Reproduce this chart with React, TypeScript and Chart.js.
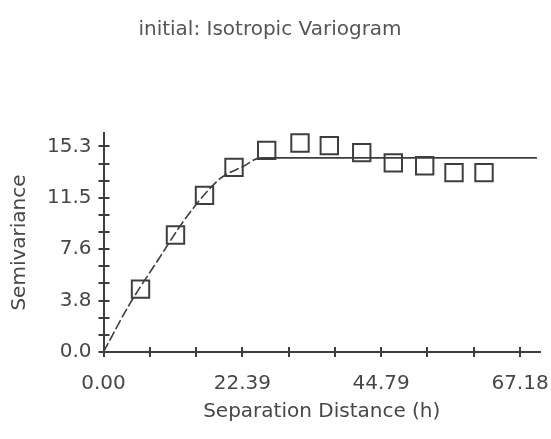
import React, { useEffect, useRef } from 'react';
import { Chart, registerables } from 'chart.js';

Chart.register(...registerables);

// Experimental (observed) semivariogram points
const OBS_DIST = [5.97, 11.61, 16.29, 21.05, 26.32, 31.69, 36.42, 41.65, 46.74, 51.8, 56.53, 61.37];
const OBS_GAMMA = [4.68, 8.71, 11.66, 13.74, 15.01, 15.56, 15.36, 14.84, 14.08, 13.86, 13.35, 13.35];

// Fitted model curve
const MODEL_DIST = [0, 4.0, 8.8, 13.4, 18.8, 22.5, 25.3, 69.9];
const MODEL_GAMMA = [0, 3.4, 6.85, 10.05, 12.9, 13.8, 14.45, 14.45];

// Axes
const X_MAJOR = [0, 22.393, 44.787, 67.18];
const X_LABELS = ['0.00', '22.39', '44.79', '67.18'];
const Y_MAJOR = [0, 3.825, 7.65, 11.475, 15.3];
const Y_LABELS = ['0.0', '3.8', '7.6', '11.5', '15.3'];
const SUBDIV = 3;
const X_MAX = 70.4;
const Y_MAX = 16.3;

const TITLE = 'initial: Isotropic Variogram';
const X_TITLE = 'Separation Distance (h)';
const Y_TITLE = 'Semivariance';

const FONT = 'DejaVu Sans';
const AXIS = '#3e3e3e';
const TEXT = '#474747';

function buildTicks(major: number[]) {
  const t: { value: number }[] = [];
  for (let i = 0; i < major.length; i++) {
    t.push({ value: major[i] });
    if (i < major.length - 1) {
      for (let k = 1; k < SUBDIV; k++) {
        t.push({ value: major[i] + ((major[i + 1] - major[i]) * k) / SUBDIV });
      }
    }
  }
  return t;
}

function labelFor(major: number[], labels: string[], v: number) {
  const i = major.findIndex((m) => Math.abs(m - v) < 1e-6);
  return i >= 0 ? labels[i] : '';
}

const crossTicks = {
  id: 'crossTicks',
  afterDatasetsDraw(chart: any) {
    const { ctx, scales } = chart;
    const x = scales.x;
    const y = scales.y;
    const area = chart.chartArea;
    ctx.save();
    ctx.strokeStyle = AXIS;
    ctx.lineWidth = 2;
    ctx.beginPath();
    x.ticks.forEach((t: any) => {
      const px = Math.round(x.getPixelForValue(t.value));
      ctx.moveTo(px, area.bottom - 5);
      ctx.lineTo(px, area.bottom + 5);
    });
    y.ticks.forEach((t: any) => {
      const py = Math.round(y.getPixelForValue(t.value));
      ctx.moveTo(area.left - 5, py);
      ctx.lineTo(area.left + 6, py);
    });
    ctx.stroke();
    ctx.restore();
  },
};

export default function App() {
  const ref = useRef<HTMLCanvasElement | null>(null);

  useEffect(() => {
    if (!ref.current) return;
    const chart = new Chart(ref.current, {
      type: 'scatter',
      data: {
        datasets: [
          {
            label: 'model',
            data: MODEL_DIST.map((d, i) => ({ x: d, y: MODEL_GAMMA[i] })),
            showLine: true,
            borderColor: AXIS,
            borderWidth: 1.6,
            pointRadius: 0,
            cubicInterpolationMode: 'monotone',
            segment: {
              borderDash: (c: any) => (c.p0.parsed.y !== c.p1.parsed.y ? [10, 3] : undefined),
            },
          } as any,
          {
            label: 'observed',
            data: OBS_DIST.map((d, i) => ({ x: d, y: OBS_GAMMA[i] })),
            showLine: false,
            pointStyle: 'rect',
            pointRadius: 12.3,
            pointBorderWidth: 2,
            pointBorderColor: AXIS,
            pointBackgroundColor: 'rgba(0,0,0,0)',
          },
        ],
      },
      options: {
        responsive: false,
        animation: false,
        layout: { autoPadding: false, padding: { left: 0, right: 11, top: 0, bottom: 0 } },
        plugins: {
          legend: { display: false },
          tooltip: { enabled: false },
          title: {
            display: true,
            text: TITLE,
            color: '#555',
            font: { family: FONT, size: 20, weight: 'normal' },
            padding: { top: 18, bottom: 91 },
          },
        },
        scales: {
          x: {
            type: 'linear',
            min: 0,
            max: X_MAX,
            afterFit: (s: any) => {
              s.height = 87;
              s.paddingLeft = 0;
              s.paddingRight = 0;
            },
            afterBuildTicks: (s: any) => {
              s.ticks = buildTicks(X_MAJOR);
            },
            ticks: {
              autoSkip: false,
              maxRotation: 0,
              padding: 20,
              color: TEXT,
              font: { family: FONT, size: 20 },
              callback: (v: any) => labelFor(X_MAJOR, X_LABELS, Number(v)),
            },
            grid: { display: false, drawTicks: false },
            border: { display: true, color: AXIS, width: 2 },
            title: {
              display: true,
              text: X_TITLE,
              color: TEXT,
              font: { family: FONT, size: 20 },
              padding: { top: 0, bottom: 15 },
            },
          },
          y: {
            type: 'linear',
            min: 0,
            max: Y_MAX,
            afterFit: (s: any) => {
              s.width = 103.5;
              s.paddingTop = 0;
              s.paddingBottom = 0;
            },
            afterBuildTicks: (s: any) => {
              s.ticks = buildTicks(Y_MAJOR);
            },
            ticks: {
              autoSkip: false,
              padding: 12,
              color: TEXT,
              font: { family: FONT, size: 20 },
              callback: (v: any) => labelFor(Y_MAJOR, Y_LABELS, Number(v)),
            },
            grid: { display: false, drawTicks: false },
            border: { display: true, color: AXIS, width: 2 },
            title: {
              display: true,
              text: Y_TITLE,
              color: TEXT,
              font: { family: FONT, size: 20 },
              padding: { top: 8, bottom: 0 },
            },
          },
        },
      } as any,
      plugins: [crossTicks],
    });
    return () => chart.destroy();
  }, []);

  return (
    <div style={{ position: 'absolute', left: 0, top: 0, width: 551, height: 439, background: '#fff' }}>
      <canvas ref={ref} width={551} height={439} />
    </div>
  );
}
